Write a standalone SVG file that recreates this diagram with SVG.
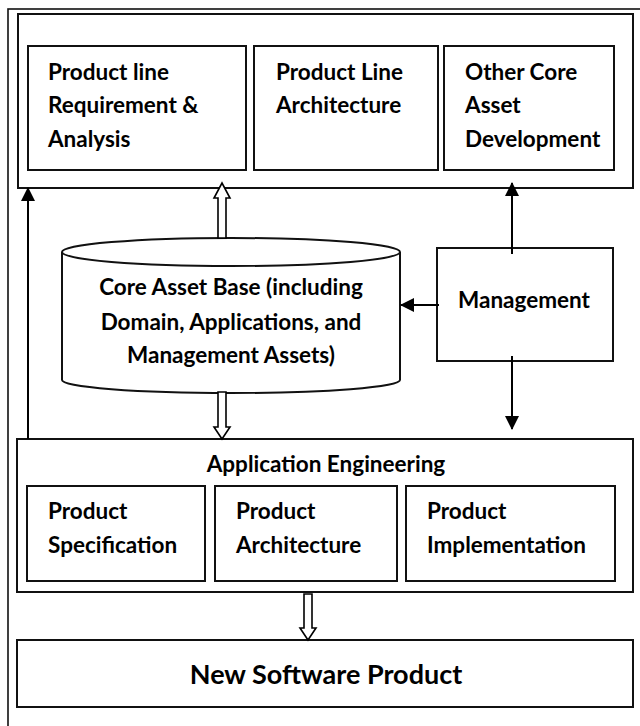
<svg xmlns="http://www.w3.org/2000/svg" width="640" height="726" viewBox="0 0 640 726">
<style>
text{font-family:Lato,"Open Sans","Liberation Sans",sans-serif;font-weight:bold;font-size:22.5px;fill:#000}
.box{fill:#fff;stroke:#111;stroke-width:2}
.frame{fill:none;stroke:#111;stroke-width:1.6}
.line{fill:none;stroke:#000;stroke-width:2}
.hollow{fill:#fff;stroke:#000;stroke-width:1.6;stroke-linejoin:miter}
.mid{text-anchor:middle}
</style>
<defs>
<marker id="ah" viewBox="0 0 14 14" refX="13" refY="7" markerWidth="14" markerHeight="14" markerUnits="userSpaceOnUse" orient="auto">
<path d="M0,0 L14,7 L0,14 Z" fill="#000"/>
</marker>
</defs>
<rect id="frame" class="frame" x="8" y="9" width="650" height="740"/>
<g id="core-asset-development">
<rect class="box" x="18" y="14" width="615" height="174"/>
<g id="pl-req">
<rect class="box" x="28" y="46" width="218" height="124"/>
<text x="48" y="80">Product line</text>
<text x="48" y="113">Requirement &amp;</text>
<text x="48" y="147">Analysis</text>
</g>
<g id="pl-arch">
<rect class="box" x="254" y="46" width="184" height="124"/>
<text x="276" y="80">Product Line</text>
<text x="276" y="113">Architecture</text>
</g>
<g id="other-core">
<rect class="box" x="444" y="46" width="170" height="124"/>
<text x="465" y="80">Other Core</text>
<text x="465" y="113">Asset</text>
<text x="465" y="147">Development</text>
</g>
</g>
<g id="core-asset-base">
<path class="box" d="M62,252 A169,14 0 0 1 400,252 L400,380 A169,13 0 0 1 62,380 Z"/>
<path class="line" d="M62,252 A169,14 0 0 0 400,252" style="stroke:#111"/>
<text class="mid" x="231" y="295">Core Asset Base (including</text>
<text class="mid" x="231" y="330">Domain, Applications, and</text>
<text class="mid" x="231" y="363">Management Assets)</text>
</g>
<g id="management">
<rect class="box" x="437" y="248" width="176" height="113"/>
<text class="mid" x="524" y="308">Management</text>
</g>
<g id="application-engineering">
<rect class="box" x="17" y="439" width="616" height="153"/>
<text class="mid" x="326" y="472">Application Engineering</text>
<g id="prod-spec">
<rect class="box" x="27" y="486" width="178" height="95"/>
<text x="48" y="519">Product</text>
<text x="48" y="553">Specification</text>
</g>
<g id="prod-arch">
<rect class="box" x="215" y="486" width="182" height="95"/>
<text x="236" y="519">Product</text>
<text x="236" y="553">Architecture</text>
</g>
<g id="prod-impl">
<rect class="box" x="406" y="486" width="209" height="95"/>
<text x="427" y="519">Product</text>
<text x="427" y="553">Implementation</text>
</g>
</g>
<g id="new-software-product">
<rect class="box" x="17" y="640" width="616" height="67"/>
<text class="mid" x="326" y="684" style="font-size:27px">New Software Product</text>
</g>
<g id="connectors">
<line class="line" x1="28" y1="439" x2="28" y2="188" marker-end="url(#ah)"/>
<line class="line" x1="512" y1="254" x2="512" y2="183" marker-end="url(#ah)"/>
<line class="line" x1="512" y1="356" x2="512" y2="429" marker-end="url(#ah)"/>
<line class="line" x1="439" y1="305" x2="401" y2="305" marker-end="url(#ah)"/>
<polygon class="hollow" points="218,238 218,198 214,198 222,183 230,198 226,198 226,238"/>
<polygon class="hollow" points="218,392 218,427 214,427 222,439 230,427 226,427 226,392"/>
<polygon class="hollow" points="304,594 304,628 300,628 308,640 316,628 312,628 312,594"/>
</g>
</svg>
